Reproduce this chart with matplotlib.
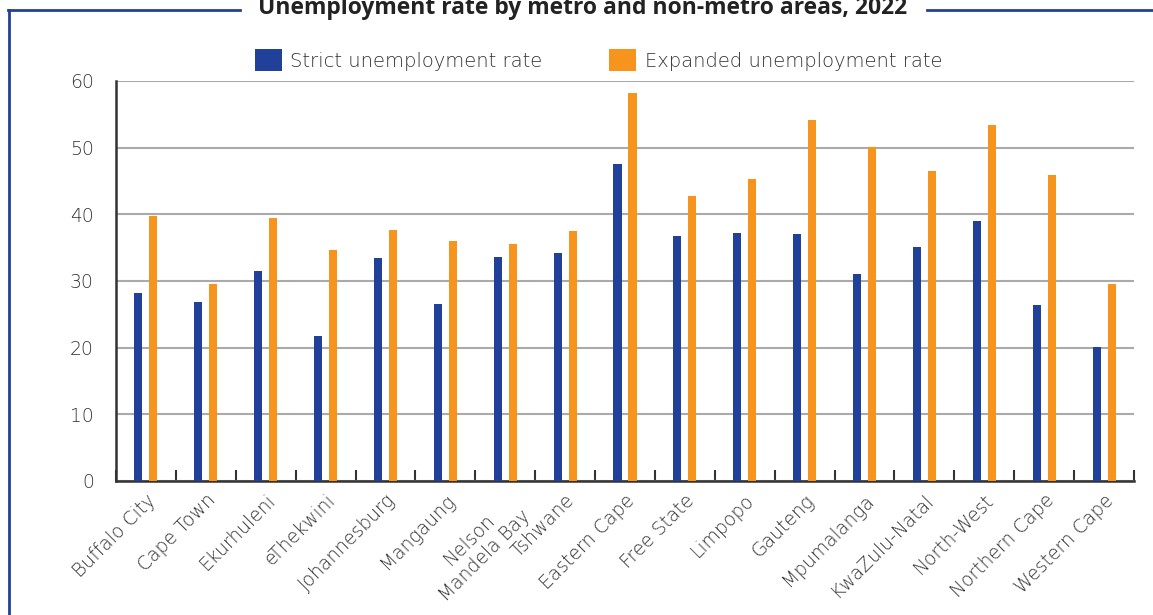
import matplotlib

matplotlib.use("Agg")
import matplotlib.pyplot as plt
from matplotlib.lines import Line2D
import numpy as np

areas = [
    "Buffalo City", "Cape Town", "Ekurhuleni", "eThekwini", "Johannesburg",
    "Mangaung", "Nelson\nMandela Bay", "Tshwane", "Eastern Cape", "Free State",
    "Limpopo", "Gauteng", "Mpumalanga", "KwaZulu-Natal", "North-West",
    "Northern Cape", "Western Cape",
]
strict_rate = [28.2, 26.9, 31.5, 21.8, 33.5, 26.6, 33.6, 34.2, 47.6, 36.8,
               37.2, 37.1, 31.1, 35.1, 39.0, 26.4, 20.1]
expanded_rate = [39.8, 29.6, 39.4, 34.6, 37.7, 36.0, 35.6, 37.5, 58.2, 42.8,
                 45.3, 54.2, 50.1, 46.5, 53.4, 45.9, 29.6]
y_ticks = [0, 10, 20, 30, 40, 50, 60]

BLUE = "#21409A"
ORANGE = "#F7941D"
TEXT = "#333333"
FS = 13.5

plt.rcParams["font.family"] = ["DejaVu Sans"]

fig = plt.figure(figsize=(11.53, 6.15), dpi=100)
ax = fig.add_axes([116 / 1153, 1 - 481 / 615, 1018 / 1153, 400 / 615])

x = np.arange(len(areas))
w = 0.135
b1 = ax.bar(x - 0.125, strict_rate, w, color=BLUE, label="Strict unemployment rate", zorder=3)
b2 = ax.bar(x + 0.125, expanded_rate, w, color=ORANGE, label="Expanded unemployment rate", zorder=3)

ax.set_xlim(-0.5, len(areas) - 0.5)
ax.set_ylim(0, 60)
ax.set_yticks(y_ticks)
ax.set_yticklabels([str(v) for v in y_ticks], fontsize=FS, color=TEXT, fontweight="light")
ax.tick_params(axis="y", length=0, pad=16)

ax.set_xticks(x)
ax.set_xticklabels(areas, rotation=45, ha="right", va="top", rotation_mode="anchor",
                   fontsize=FS, color=TEXT, fontweight="light", multialignment="center")
ax.tick_params(axis="x", length=0, pad=7)
ax.set_xticks(np.arange(len(areas) + 1) - 0.5, minor=True)
ax.tick_params(axis="x", which="minor", direction="in", length=8, width=1.5, color="#333333")

ax.yaxis.grid(True, color="#aaaaaa", linewidth=1.5, zorder=0)
for s in ["top", "right"]:
    ax.spines[s].set_visible(False)
for s in ["left", "bottom"]:
    ax.spines[s].set_color("#333333")
    ax.spines[s].set_linewidth(1.8)

fig.legend(handles=[b1, b2], loc="center", bbox_to_anchor=(0.519, 1 - 60 / 615),
           ncol=2, frameon=False, handlelength=1.4, handleheight=1.3,
           handletextpad=0.45, columnspacing=3.4, borderpad=0,
           prop={"size": 14, "weight": "light"}, labelcolor=TEXT)

# frame with title in the top border
fig.text(0.5055, 1 - 14 / 615, "Unemployment rate by metro and non-metro areas, 2022",
         ha="center", va="baseline", fontsize=16.5, fontweight="bold", color="#222222",
         family=["Open Sans", "DejaVu Sans"])
fig.add_artist(Line2D([9 / 1153, 9 / 1153], [0, 1 - 10 / 615], color=BLUE, lw=2))
fig.add_artist(Line2D([8 / 1153, 240 / 1153], [1 - 10 / 615] * 2, color=BLUE, lw=2))
fig.add_artist(Line2D([927 / 1153, 1], [1 - 10 / 615] * 2, color=BLUE, lw=2))

fig.savefig("out.png", dpi=100)
